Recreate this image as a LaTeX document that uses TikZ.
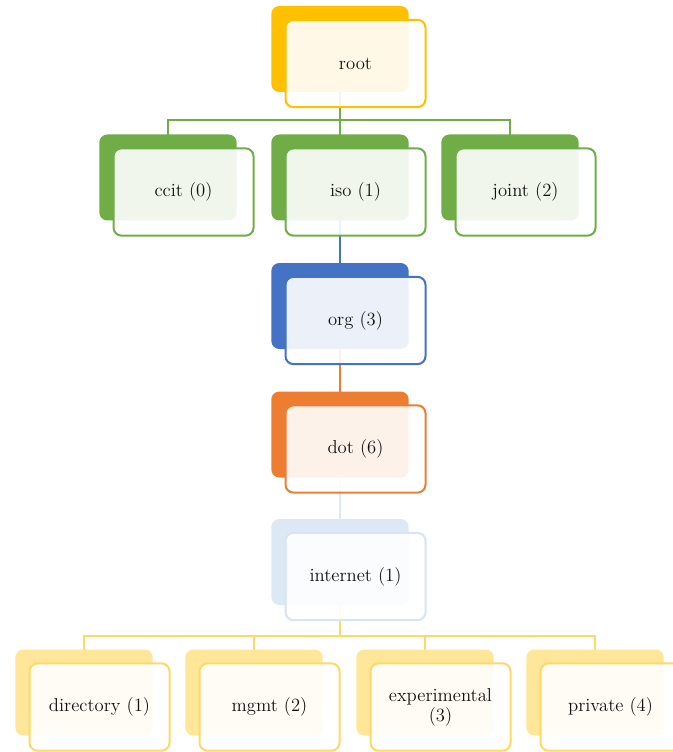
\documentclass[tikz,border=0pt]{standalone}
\usetikzlibrary{calc}
\definecolor{gold}{HTML}{FFC000}
\definecolor{leaf}{HTML}{70AD47}
\definecolor{navy}{HTML}{4472C4}
\definecolor{amber}{HTML}{ED7D31}
\definecolor{mist}{HTML}{DDE8F5}
\definecolor{mistline}{HTML}{D6E4F3}
\definecolor{sand}{HTML}{FFE699}
\definecolor{sandline}{HTML}{FFD966}
\definecolor{ink}{HTML}{111111}
\tikzset{
  backbox/.style={rounded corners=6pt, minimum width=103pt, minimum height=64.5pt,
    inner sep=0pt, fill=#1, draw=none},
  frontbox/.style={rounded corners=6pt, minimum width=105pt, minimum height=65.5pt,
    inner sep=0pt, fill=white, fill opacity=0.9, text opacity=1, draw=#1,
    line width=1.5pt, text=ink, font=\fontsize{14}{15}\selectfont, align=center},
  link/.style={line width=1.6pt, draw=#1}
}
% place a two-layer box: back card at (x,y), front card shifted down-right
\newcommand{\cardpair}[6]{%
  \node[backbox=#4] (#1B) at (#2,#3) {};
  \node[frontbox=#5] (#1F) at ($(#2,#3)+(15.5,14.5)$) {#6};
}
\begin{document}
\begin{tikzpicture}[x=0.75pt,y=-0.75pt]
\useasboundingbox (0,0) rectangle (673,752);
\clip (0,0) rectangle (673,752);

% bus points
\coordinate (busA) at (340,120);
\coordinate (busB) at (340,636);

% anchor points at the centres of the back cards
\path (340,49) coordinate (rootC) (168,177.5) coordinate (ccitC)
      (340,177.5) coordinate (isoC) (510,177.5) coordinate (jointC)
      (340,306) coordinate (orgC) (340,434.5) coordinate (dotC)
      (340,561.5) coordinate (inetC)
      (84,692.5) coordinate (dirC) (254,692.5) coordinate (mgmtC)
      (425,692.5) coordinate (expC) (595,692.5) coordinate (privC);

% connectors (drawn first, cards sit over them)
\draw[link=leaf] (rootC) -- (busA);
\draw[link=leaf] (ccitC) |- (busA) -| (jointC);
\draw[link=leaf] (busA) -- (isoC);
\draw[link=navy] (isoC) -- (orgC);
\draw[link=amber] (orgC) -- (dotC);
\draw[link=mist] (dotC) -- (inetC);
\draw[link=sandline] (inetC) -- (busB);
\draw[link=sandline] (dirC) |- (busB) -| (privC);
\draw[link=sandline] (mgmtC) |- (busB);
\draw[link=sandline] (expC) |- (busB);

% cards
\cardpair{root}{340}{49}{gold}{gold}{root}
\cardpair{ccit}{168}{177.5}{leaf}{leaf}{ccit (0)}
\cardpair{iso}{340}{177.5}{leaf}{leaf}{iso (1)}
\cardpair{joint}{510}{177.5}{leaf}{leaf}{joint (2)}
\cardpair{org}{340}{306}{navy}{navy}{org (3)}
\cardpair{dot}{340}{434.5}{amber}{amber}{dot (6)}
\cardpair{inet}{340}{562}{mist}{mistline}{internet (1)}
\cardpair{dir}{84}{692.5}{sand}{sandline}{directory (1)}
\cardpair{mgmt}{254}{692.5}{sand}{sandline}{mgmt (2)}
\cardpair{exp}{425}{692.5}{sand}{sandline}{experimental\\(3)}
\cardpair{priv}{595}{692.5}{sand}{sandline}{private (4)}
\end{tikzpicture}
\end{document}
